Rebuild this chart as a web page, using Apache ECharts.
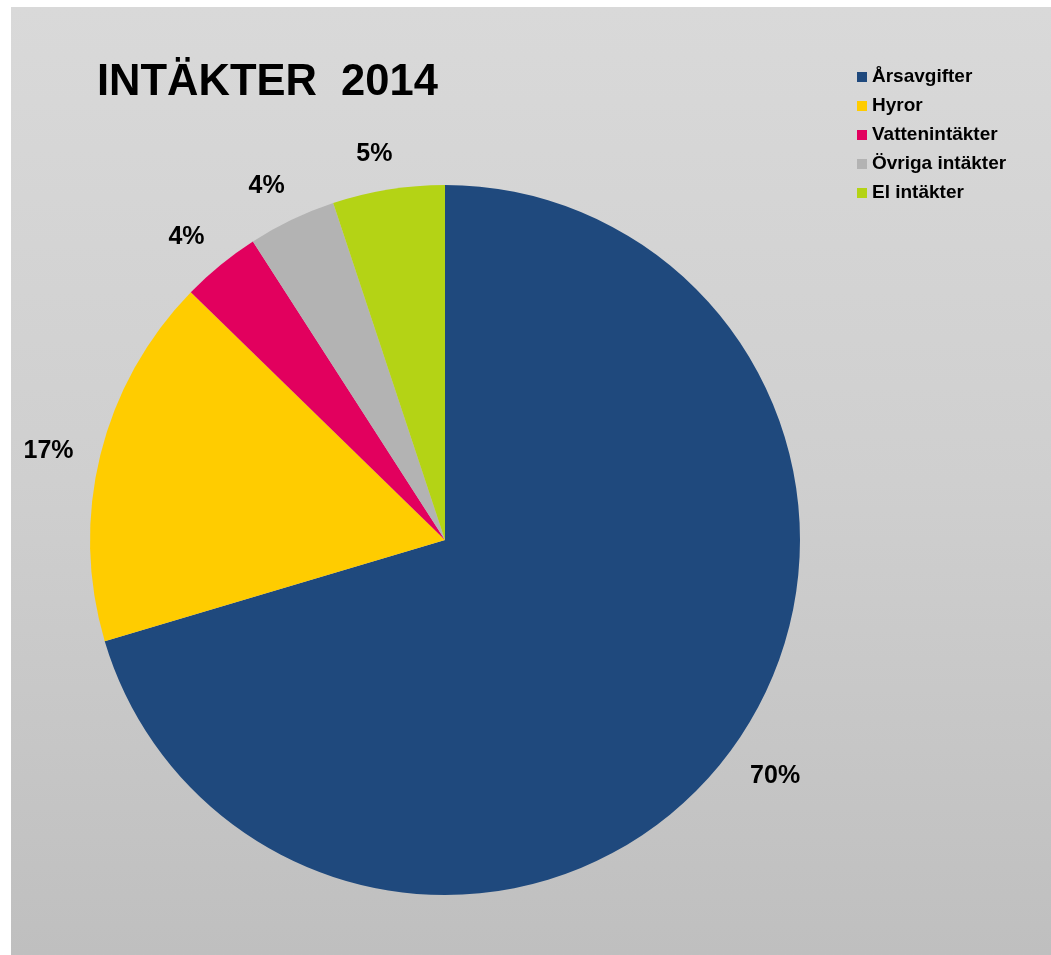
<!DOCTYPE html>
<html>
<head>
<meta charset="utf-8">
<script src="https://cdn.jsdelivr.net/npm/echarts@6/dist/echarts.min.js"></script>
<style>
  html, body { margin: 0; padding: 0; background: #ffffff; width: 1051px; height: 955px; overflow: hidden; }
  #chart {
    position: absolute; left: 11px; top: 7px; width: 1040px; height: 948px;
    background: linear-gradient(to bottom, #d9d9d9 0%, #cfcfcf 50%, #bfbfbf 100%);
  }
</style>
</head>
<body>
<div id="chart"></div>
<script>
const titleText = 'INTÄKTER  2014';
const categories = ['Årsavgifter', 'Hyror', 'Vattenintäkter', 'Övriga intäkter', 'El intäkter'];
const values = [70.4, 16.9, 3.6, 4.0, 5.1];
const palette = ['#1f497d', '#ffcc00', '#e2005e', '#b3b3b3', '#b4d315'];

const FONT = "'Liberation Sans', Arial, Helvetica, sans-serif";
const pieData = categories.map((name, i) => ({ name: name, value: values[i] }));
const center = [434, 533];
const pieRadius = 355;
const labelGap = 25;
const labelTurn = -1.2 * Math.PI / 180;

const chart = echarts.init(document.getElementById('chart'), null, { renderer: 'canvas' });
chart.setOption({
  backgroundColor: 'transparent',
  animation: false,
  color: palette,
  title: {
    text: titleText,
    left: 81,
    top: 49,
    textStyle: { fontFamily: FONT, fontWeight: 'bold', fontSize: 43.5, color: '#000000' }
  },
  legend: {
    orient: 'vertical',
    left: 841,
    top: 55,
    icon: 'rect',
    itemWidth: 10,
    itemHeight: 10,
    itemGap: 9,
    selectedMode: false,
    data: categories,
    textStyle: { fontFamily: FONT, fontWeight: 'bold', fontSize: 19, lineHeight: 20, color: '#000000' }
  },
  series: [
    {
      type: 'pie',
      name: 'main',
      center: center,
      radius: pieRadius,
      startAngle: 90,
      clockwise: true,
      silent: true,
      data: pieData,
      label: { show: false },
      labelLine: { show: false },
      itemStyle: { borderWidth: 0 },
      emphasis: { disabled: true }
    },
    {
      type: 'pie',
      name: 'labels',
      center: center,
      radius: [pieRadius, pieRadius + 10],
      startAngle: 90,
      clockwise: true,
      silent: true,
      percentPrecision: 0,
      data: pieData,
      itemStyle: { color: 'rgba(0,0,0,0)', borderWidth: 0 },
      label: {
        show: true,
        position: 'inside',
        formatter: '{d}%',
        fontFamily: FONT,
        fontWeight: 'bold',
        fontSize: 25,
        color: '#000000'
      },
      labelLine: { show: false },
      labelLayout: function (p) {
        const r = p.labelRect;
        const lx = r.x + r.width / 2, ly = r.y + r.height / 2;
        const a = Math.atan2(ly - center[1], lx - center[0]) + labelTurn;
        const dx = Math.cos(a), dy = Math.sin(a);
        const proj = Math.abs(dx) * r.width / 2 + Math.abs(dy) * 9;
        const dist = pieRadius + labelGap + proj;
        return { x: center[0] + dx * dist, y: center[1] + dy * dist };
      },
      emphasis: { disabled: true }
    }
  ]
});
</script>
</body>
</html>
